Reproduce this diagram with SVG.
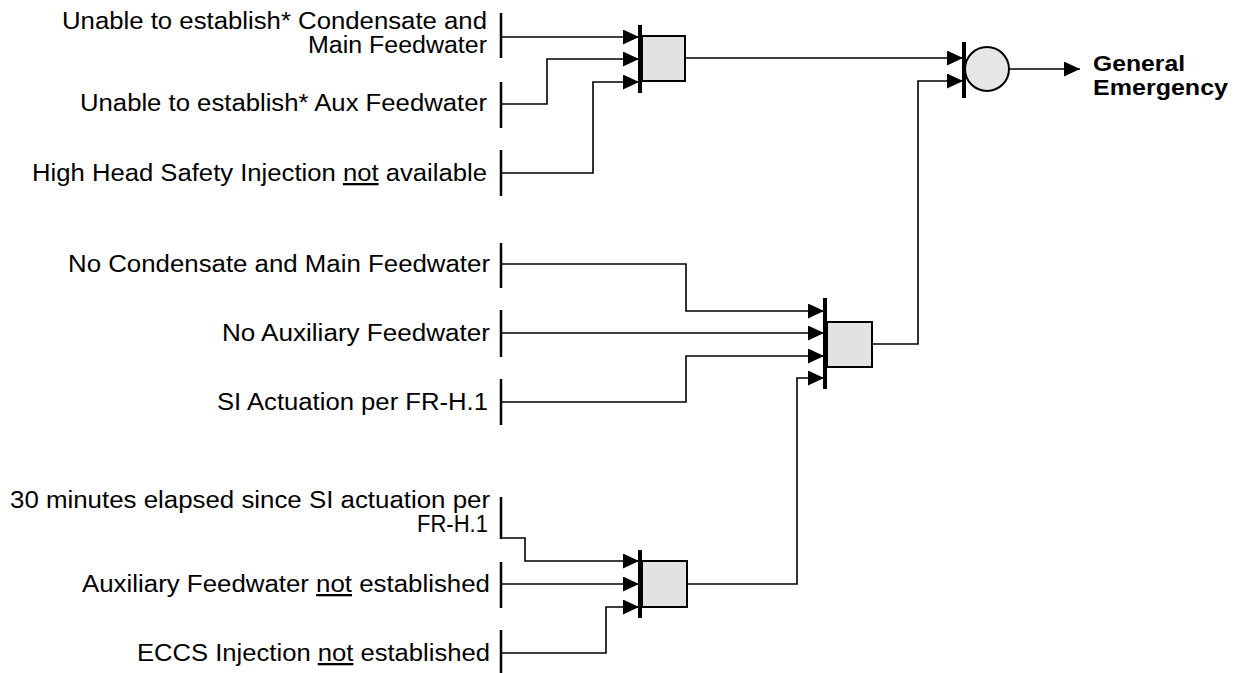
<svg xmlns="http://www.w3.org/2000/svg" width="1243" height="673" viewBox="0 0 1243 673">
<style>
.lbl{font-family:"Liberation Sans",Arial,sans-serif;font-size:23px;fill:#000}
.out{font-family:"Liberation Sans",Arial,sans-serif;font-size:22px;font-weight:bold;fill:#000}
.ibar{stroke:#000;stroke-width:2.5;fill:none}
.gbar{stroke:#000;stroke-width:4;fill:none}
.box{fill:#e2e2e2;stroke:#000;stroke-width:2}
.wire{stroke:#000;stroke-width:1.6;fill:none}
.u{text-decoration:underline}
</style>
<defs>
<marker id="ah" markerUnits="userSpaceOnUse" markerWidth="17" markerHeight="15" refX="16" refY="7.5" orient="auto">
<path d="M0,0 L16,7.5 L0,15 z" fill="#000"/>
</marker>
</defs>
<rect width="1243" height="673" fill="#fff"/>

<g id="in1">
<text class="lbl" x="62" y="29" textLength="425" lengthAdjust="spacingAndGlyphs">Unable to establish* Condensate and</text>
<text class="lbl" x="308" y="53" textLength="179" lengthAdjust="spacingAndGlyphs">Main Feedwater</text>
<line class="ibar" x1="501" y1="13" x2="501" y2="58"/>
</g>
<g id="in2">
<text class="lbl" x="80" y="111" textLength="407" lengthAdjust="spacingAndGlyphs">Unable to establish* Aux Feedwater</text>
<line class="ibar" x1="501" y1="82" x2="501" y2="128"/>
</g>
<g id="in3">
<text class="lbl" x="32" y="181" textLength="455" lengthAdjust="spacingAndGlyphs">High Head Safety Injection <tspan class="u">not</tspan> available</text>
<line class="ibar" x1="501" y1="150" x2="501" y2="196"/>
</g>
<g id="in4">
<text class="lbl" x="68" y="272" textLength="422" lengthAdjust="spacingAndGlyphs">No Condensate and Main Feedwater</text>
<line class="ibar" x1="501" y1="243" x2="501" y2="288"/>
</g>
<g id="in5">
<text class="lbl" x="222" y="341" textLength="268" lengthAdjust="spacingAndGlyphs">No Auxiliary Feedwater</text>
<line class="ibar" x1="501" y1="310" x2="501" y2="357"/>
</g>
<g id="in6">
<text class="lbl" x="217" y="410" textLength="271" lengthAdjust="spacingAndGlyphs">SI Actuation per FR-H.1</text>
<line class="ibar" x1="501" y1="379" x2="501" y2="425"/>
</g>
<g id="in7">
<text class="lbl" x="10" y="508" textLength="480" lengthAdjust="spacingAndGlyphs">30 minutes elapsed since SI actuation per</text>
<text class="lbl" x="417" y="532" textLength="71" lengthAdjust="spacingAndGlyphs">FR-H.1</text>
<line class="ibar" x1="501" y1="497" x2="501" y2="539"/>
</g>
<g id="in8">
<text class="lbl" x="82" y="592" textLength="408" lengthAdjust="spacingAndGlyphs">Auxiliary Feedwater <tspan class="u">not</tspan> established</text>
<line class="ibar" x1="501" y1="562" x2="501" y2="608"/>
</g>
<g id="in9">
<text class="lbl" x="137" y="661" textLength="353" lengthAdjust="spacingAndGlyphs">ECCS Injection <tspan class="u">not</tspan> established</text>
<line class="ibar" x1="501" y1="630" x2="501" y2="673"/>
</g>

<g id="gate1">
<line class="gbar" x1="640" y1="25" x2="640" y2="93"/>
<rect class="box" x="642" y="36" width="43" height="45"/>
</g>
<g id="gate2">
<line class="gbar" x1="825" y1="298" x2="825" y2="389"/>
<rect class="box" x="827" y="322" width="45" height="45"/>
</g>
<g id="gate3">
<line class="gbar" x1="640" y1="550" x2="640" y2="618"/>
<rect class="box" x="642" y="561" width="45" height="46"/>
</g>
<g id="gateOr">
<line class="gbar" x1="964" y1="42" x2="964" y2="98"/>
<circle cx="987" cy="69" r="22" fill="#e6e6e6" stroke="#000" stroke-width="2"/>
</g>
<g id="result">
<text class="out" x="1093" y="71" textLength="92" lengthAdjust="spacingAndGlyphs">General</text>
<text class="out" x="1093" y="95" textLength="135" lengthAdjust="spacingAndGlyphs">Emergency</text>
</g>

<g id="connectors">
<polyline class="wire" points="501,37 639,37" marker-end="url(#ah)"/>
<polyline class="wire" points="501,104 547,104 547,59 639,59" marker-end="url(#ah)"/>
<polyline class="wire" points="501,173 593,173 593,82 639,82" marker-end="url(#ah)"/>
<polyline class="wire" points="685,58 963,58" marker-end="url(#ah)"/>
<polyline class="wire" points="872,344 918,344 918,81 963,81" marker-end="url(#ah)"/>
<polyline class="wire" points="1009,69 1080,69" marker-end="url(#ah)"/>
<polyline class="wire" points="501,264 686,264 686,311 824,311" marker-end="url(#ah)"/>
<polyline class="wire" points="501,333 824,333" marker-end="url(#ah)"/>
<polyline class="wire" points="501,402 686,402 686,356 824,356" marker-end="url(#ah)"/>
<polyline class="wire" points="687,584 797,584 797,378 824,378" marker-end="url(#ah)"/>
<polyline class="wire" points="501,538 525,538 525,561 639,561" marker-end="url(#ah)"/>
<polyline class="wire" points="501,584 639,584" marker-end="url(#ah)"/>
<polyline class="wire" points="501,653 606,653 606,607 639,607" marker-end="url(#ah)"/>
</g>
</svg>
